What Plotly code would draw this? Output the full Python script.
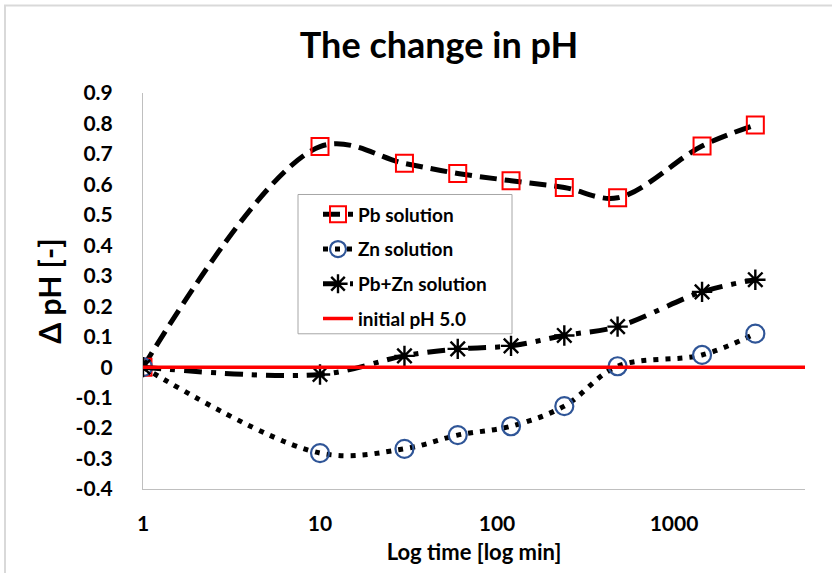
import plotly.graph_objects as go

time_min = [1, 10, 30, 60, 120, 240, 480, 1440, 2880]
pb = [0.0, 0.724, 0.669, 0.636, 0.612, 0.59, 0.556, 0.726, 0.795]
zn = [0.0, -0.282, -0.268, -0.223, -0.194, -0.128, 0.003, 0.04, 0.11]
pbzn = [0.0, -0.024, 0.037, 0.06, 0.07, 0.104, 0.133, 0.247, 0.287]
init_x = [1, 5500]
init_y = [0.0, 0.0]
x_ticks = [1, 10, 100, 1000]
x_ticktext = ["1", "10", "100", "1000"]
y_ticks = [-0.4, -0.3, -0.2, -0.1, 0, 0.1, 0.2, 0.3, 0.4, 0.5, 0.6, 0.7, 0.8, 0.9]
y_ticktext = ["-0.4", "-0.3", "-0.2", "-0.1", "0", "0.1", "0.2", "0.3", "0.4", "0.5", "0.6", "0.7", "0.8", "0.9"]

FONT = "Lato"

# plot area geometry (pixels)
L, T, PW, PH = 143, 93, 662, 398
W, H = 832, 573


def px(x):
    return (x - L) / PW


def py(y):
    return (T + PH - y) / PH


fig = go.Figure()
fig.add_trace(go.Scatter(
    x=time_min, y=pb, name="Pb solution", mode="lines+markers", legendgroup="a",
    line=dict(color="black", width=5, dash="17px,8px", shape="spline"),
    marker=dict(symbol="square-open", size=17, color="#FF0000", line=dict(width=2, color="#FF0000")),
))
fig.add_trace(go.Scatter(
    x=time_min, y=zn, name="Zn solution", mode="lines+markers", legendgroup="b",
    line=dict(color="black", width=5, dash="5px,7px", shape="spline"),
    marker=dict(symbol="circle-open", size=18, color="#2F5597", line=dict(width=2.2, color="#2F5597")),
))
fig.add_trace(go.Scatter(
    x=time_min, y=pbzn, name="Pb+Zn solution", mode="lines+markers", legendgroup="c",
    line=dict(color="black", width=5, dash="18px,9px,5px,9px", shape="spline"),
    marker=dict(symbol="asterisk-open", size=17, color="black", line=dict(width=2.4, color="black")),
))
fig.add_trace(go.Scatter(
    x=init_x, y=init_y, name="initial pH 5.0", mode="lines", legendgroup="d",
    line=dict(color="#FF0000", width=3.5),
))

fig.update_layout(
    width=W, height=H,
    margin=dict(l=L, r=W - L - PW, t=T, b=H - T - PH),
    paper_bgcolor="white", plot_bgcolor="white",
    font=dict(family=FONT, color="black"),
    title=dict(text="<b>The change in pH</b>", x=439 / W, xanchor="center", y=1 - 45 / H, yanchor="middle",
               font=dict(size=36, family=FONT, color="black")),
    showlegend=True,
    legend=dict(x=px(318), y=py(196), xanchor="left", yanchor="top",
                bgcolor="rgba(0,0,0,0)", borderwidth=0,
                font=dict(size=19, family=FONT, color="black", weight="bold"),
                tracegroupgap=7, itemwidth=30),
    xaxis=dict(type="log", range=[0, 3.74], tickvals=x_ticks, ticktext=x_ticktext,
               showgrid=False, zeroline=False, showline=True, linecolor="#BFBFBF", linewidth=1,
               ticks="", ticklabelstandoff=16,
               tickfont=dict(size=21, family=FONT, weight="bold"),
               title=dict(text="<b>Log time [log min]</b>", font=dict(size=22, family=FONT), standoff=10)),
    yaxis=dict(range=[-0.4, 0.9], tickvals=y_ticks, ticktext=y_ticktext,
               showgrid=False, zeroline=False, showline=True, linecolor="#BFBFBF", linewidth=1,
               ticks="", ticklabelstandoff=25,
               tickfont=dict(size=21, family=FONT, weight="bold"),
               title=dict(text="<b>Δ pH [-]</b>", font=dict(size=30, family=FONT), standoff=5)),
)

# legend box
fig.add_shape(type="rect", xref="paper", yref="paper",
              x0=px(298), x1=px(512), y0=py(335), y1=py(195),
              line=dict(color="#A6A6A6", width=1), fillcolor="white", layer="below")
# outer chart frame
fig.add_shape(type="rect", xref="paper", yref="paper",
              x0=px(5), x1=px(845), y0=py(590), y1=py(5),
              line=dict(color="#D9D9D9", width=2), fillcolor="rgba(0,0,0,0)", layer="below")

fig.write_html("out.html", config={"displayModeBar": False},
               post_script="document.body.style.margin='0';")
